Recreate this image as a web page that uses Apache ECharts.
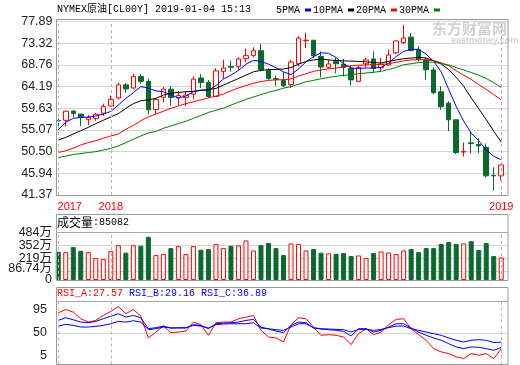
<!DOCTYPE html>
<html><head><meta charset="utf-8">
<script src="https://cdn.jsdelivr.net/npm/echarts@6/dist/echarts.min.js"></script>
<style>html,body{margin:0;padding:0;background:#fff}#c{width:520px;height:365px}</style>
</head><body><div id="c"></div>
<script>
// ---------- data ----------
const categories = [
 '2017-11-17','2017-11-24','2017-12-01','2017-12-08','2017-12-15','2017-12-22','2017-12-29',
 '2018-01-05','2018-01-12','2018-01-19','2018-01-26','2018-02-02','2018-02-09','2018-02-16','2018-02-23',
 '2018-03-02','2018-03-09','2018-03-16','2018-03-23','2018-03-30','2018-04-06','2018-04-13','2018-04-20','2018-04-27',
 '2018-05-04','2018-05-11','2018-05-18','2018-05-25','2018-06-01','2018-06-08','2018-06-15','2018-06-22','2018-06-29',
 '2018-07-06','2018-07-13','2018-07-20','2018-07-27','2018-08-03','2018-08-10','2018-08-17','2018-08-24','2018-08-31',
 '2018-09-07','2018-09-14','2018-09-21','2018-09-28','2018-10-05','2018-10-12','2018-10-19','2018-10-26',
 '2018-11-02','2018-11-09','2018-11-16','2018-11-23','2018-11-30','2018-12-07','2018-12-14','2018-12-21','2018-12-28',
 '2019-01-04'];
const yearTicks = ['2017','2018','2019'];
const yearTickIndex = [0, 7, 59];
// [open, close, low, high]
const ohlc = [
 [57.05,56.95,55.1,57.5],[57.1,59.0,55.8,59.1],[59.05,58.55,57.7,59.15],[58.4,57.75,55.9,58.45],[57.3,57.73,56.1,58.2],
 [57.5,58.35,57.0,58.6],[58.6,60.0,58.0,60.6],[60.1,61.5,60.0,62.3],[61.8,64.55,61.45,65.05],[64.55,63.7,62.85,64.95],
 [63.9,66.3,63.6,66.9],[66.3,65.3,64.8,66.8],[65.25,59.3,58.3,65.8],[59.35,61.45,58.3,61.8],[61.95,63.65,60.9,64.1],
 [63.65,61.9,60.2,64.2],[61.8,62.3,60.25,63.3],[61.9,62.4,60.1,63.3],[62.6,65.75,61.5,66.3],[66.0,65.05,63.9,66.8],
 [65.05,62.1,61.8,65.6],[62.1,67.5,62.0,68.1],[67.4,68.1,65.8,69.85],[68.4,68.25,67.3,69.65],[68.45,70.0,67.75,70.35],
 [70.05,70.7,69.3,72.2],[70.75,71.75,70.35,72.45],[71.75,67.75,67.4,73.2],[67.6,65.85,65.65,68.1],[65.85,65.75,64.3,66.55],
 [65.45,64.4,64.1,67.25],[64.6,69.35,63.9,69.85],[69.0,74.4,68.45,74.8],[73.85,73.95,72.3,75.5],[73.95,70.7,70.2,74.0],
 [70.55,68.3,66.15,71.6],[68.25,68.95,67.9,69.85],[69.5,69.0,67.0,70.3],[68.9,68.2,66.3,70.0],[68.05,65.6,64.4,68.6],
 [65.3,68.2,65.1,68.6],[69.0,69.8,68.25,70.3],[70.0,68.0,67.05,71.6],[68.15,68.9,67.4,70.2],[68.75,70.85,68.6,71.95],
 [71.3,73.8,71.05,73.9],[73.45,74.4,73.15,77.2],[74.6,71.8,71.6,75.5],[71.95,69.85,69.5,72.65],[69.8,67.75,65.65,70.35],
 [67.7,62.9,62.6,68.25],[63.1,59.95,59.3,64.25],[60.7,57.2,54.8,61.1],[57.2,50.3,50.0,57.2],[50.4,50.55,49.45,52.4],
 [52.35,52.2,50.1,54.7],[52.0,51.7,50.2,53.3],[51.4,45.4,45.1,52.2],[45.5,45.4,42.3,47.2],[45.4,47.7,44.4,47.85]];
// volume, in 万
const volume = [288,284,335,298,284,223,213,294,355,278, 355,349,440,254,264,325,345,264,345,308,
 315,366,325,349,352,403,301,355,376,325, 254,372,366,301,315,278,271,267,274,244,
 250,223,274,291,281,264,301,315,284,325, 325,366,386,366,372,396,305,376,244,230];
const ma5 = [55.1,56.7,57.5,57.7,57.75,58.0,58.4,58.95,60.3,61.7, 62.9,64.2,63.85,63.3,63.1,62.45,61.8,62.2,63.1,63.45,
 63.4,64.4,65.8,66.6,67.6,68.9,69.7,69.5,68.9,68.15, 67.3,66.7,67.9,69.4,70.5,71.3,71.2,70.3,69.0,68.1,
 68.0,68.1,68.1,68.25,69.1,70.5,71.6,72.0,72.05,71.0, 69.5,67.3,63.6,60.0,56.9,54.4,52.8,50.9,49.5,48.8];
const ma10 = [52.95,53.5,54.2,54.9,55.6,56.4,57.1,57.8,58.5,59.6, 60.6,61.2,61.4,61.7,62.4,62.8,62.95,63.1,63.2,63.4,
 63.55,63.8,64.5,65.2,65.9,66.6,67.3,67.6,67.75,67.8, 67.9,68.2,68.9,69.5,69.8,70.0,69.8,69.7,69.6,69.55,
 69.5,69.4,69.25,69.15,69.5,69.8,70.05,70.2,70.35,70.2, 69.65,68.95,67.75,66.15,64.25,61.8,59.55,57.25,54.8,52.5];
const ma20 = [50.3,50.7,51.2,51.9,52.4,52.8,53.3,53.8,54.2,55.2, 56.0,57.0,57.8,58.4,59.0,59.6,60.1,60.6,61.0,61.4,
 61.8,62.2,62.6,63.3,63.9,64.4,64.9,65.25,65.5,65.6, 65.65,65.8,66.4,66.9,67.4,67.7,67.9,68.1,68.35,68.55,
 68.7,68.75,68.8,68.85,69.0,69.3,69.6,69.8,69.85,69.8, 69.65,69.2,68.6,67.5,66.6,65.7,64.6,63.6,62.5,61.4];
const ma30 = [49.25,49.55,49.9,50.1,50.3,50.5,50.85,51.2,51.7,52.4, 53.1,53.8,54.4,54.75,55.4,55.9,56.4,56.9,57.5,58.1,
 58.75,59.2,59.65,60.3,60.9,61.5,62.0,62.5,63.0,63.4, 63.85,64.2,64.7,65.2,65.5,65.85,66.1,66.35,66.55,66.7,
 66.9,67.05,67.2,67.4,67.8,68.2,68.8,69.0,69.25,69.35, 69.35,69.0,68.75,68.2,67.7,67.15,66.6,65.9,65.0,64.0];
const rsiA = [78.8,83.6,79.8,70.4,65.6,68.0,75.1,80.8,87.9,77.5, 83.6,74.1,42.9,51.4,59.9,50.5,51.4,52.8,65.6,61.8,
 46.7,64.7,65.6,65.6,70.4,72.7,75.1,53.8,44.3,42.9, 37.2,61.8,71.8,70.4,58.5,46.7,47.6,46.7,44.3,33.4,
 49.0,56.1,47.6,51.4,61.8,69.4,70.4,56.1,47.6,39.5, 27.7,23.0,20.6,15.9,13.5,20.6,18.2,20.6,13.5,27.57];
const rsiB = [68.0,71.8,68.9,65.6,64.7,66.6,70.4,74.1,77.5,72.7, 75.1,71.8,56.1,57.6,59.9,57.1,57.1,57.1,61.8,60.9,
 56.1,63.2,64.2,64.7,65.6,68.0,69.4,58.5,55.7,52.8, 50.5,60.9,65.6,64.7,57.1,55.7,54.7,53.8,52.3,45.7,
 56.1,56.1,51.4,53.8,58.5,63.2,63.2,57.1,51.4,46.7, 42.9,39.6,34.8,30.1,27.7,30.1,29.6,27.7,25.3,29.16];
const rsiC = [59.9,62.3,60.9,58.5,58.5,59.5,60.9,63.2,66.6,65.6, 67.5,65.6,54.7,56.1,58.5,57.1,57.6,57.6,60.9,59.9,
 57.1,61.8,62.8,63.2,63.2,63.2,64.7,57.1,56.1,54.7, 53.8,58.5,63.2,63.2,57.6,56.1,55.7,55.2,54.7,51.4,
 55.2,55.2,53.8,55.2,57.6,59.9,59.9,56.1,53.8,51.4, 49.0,46.7,42.9,39.6,37.2,39.6,40.5,39.6,36.3,36.89];
const priceTicks = [41.37,45.94,50.50,55.07,59.63,64.19,68.76,73.32,77.89];
const volTicks = [0,86.74,219,352,484];
const rsiTicks = [5,50,95];
const titleText = 'NYMEX原油[CL00Y] 2019-01-04 15:13';
const volTitle = ['成交量', ':85082'];
const rsiTitle = ['RSI_A:27.57', 'RSI_B:29.16', 'RSI_C:36.89'];

// ---------- style ----------
const RED = '#ff0000', GREEN = '#0a6a2e', BLUE = '#0000ff', BLACK = '#000000', MA30C = '#008000';
const MONO = '"Liberation Mono","Noto Sans CJK SC",monospace';
const SANS = '"Liberation Sans","Noto Sans CJK SC",sans-serif';
const GRIDC = '#d6d6d6', FRAMEC = '#999999', SEPC = '#a8a8a8', DASHC = '#b4b4b4';
const L = 54.5, R = 15, FL = 56, FR = 12;
const panels = [
  {top: 21.5, height: 173.5},
  {top: 232.5, height: 47.5},
  {top: 301.5, height: 63}
];

const chart = echarts.init(document.getElementById('c'), null, {renderer: 'canvas'});
const yearMark = {
  symbol: 'none', silent: true, label: {show: false},
  lineStyle: {color: DASHC, type: [3, 3], width: 1},
  emphasis: {disabled: true},
  data: yearTickIndex.map(i => ({xAxis: categories[i]}))
};

const grids = [], xAxes = [], yAxes = [];
panels.forEach(p => grids.push({left: L, right: R, top: p.top, height: p.height}));
panels.forEach(p => grids.push({left: FL, right: FR, top: p.top, height: p.height}));
for (let k = 0; k < 3; k++) {
  xAxes.push({
    type: 'category', gridIndex: k, data: categories, boundaryGap: true,
    axisLine: {show: false}, axisTick: {show: false}, splitLine: {show: false},
    axisLabel: k === 0 ? {
      show: true, color: RED, fontSize: 11, fontFamily: SANS, margin: 6, hideOverlap: false,
      interval: (idx) => yearTickIndex.includes(idx),
      formatter: (val, idx) => {
        const j = yearTickIndex.indexOf(idx);
        if (j < 0) return '';
        return j === 0 ? '{l|' + yearTicks[j] + '}' : yearTicks[j];
      },
      rich: {l: {color: RED, fontSize: 11, fontFamily: SANS, padding: [0, 0, 0, 23]}}
    } : {show: false}
  });
}
for (let k = 0; k < 3; k++) {
  xAxes.push({type: 'value', gridIndex: 3 + k, min: 0, max: 1, show: false});
}
const ranges = [[41.37, 77.89], [0, 484], [5, 95]];
for (let k = 0; k < 3; k++) {
  yAxes.push({type: 'value', gridIndex: k, min: ranges[k][0], max: ranges[k][1], show: false});
}
const labelBase = {color: '#222', fontSize: 12.5, fontFamily: SANS, showMinLabel: true, showMaxLabel: true, hideOverlap: false};
// decoration axis: labels and/or grid lines at given values
function decoAxis(grid, range, values, margin, formatter, rich, split, showLabel) {
  const lab = Object.assign({customValues: values, margin, formatter, show: showLabel}, labelBase);
  if (rich) lab.rich = rich;
  return {
    type: 'value', gridIndex: grid, position: 'left', min: range[0], max: range[1],
    axisLine: {show: false}, axisTick: {show: false, customValues: values},
    axisLabel: lab,
    splitLine: {show: split, lineStyle: {color: GRIDC, width: 1}}
  };
}
// price panel
yAxes.push(decoAxis(3, ranges[0], priceTicks, 3.5, v => v.toFixed(2), null, true, true));
// volume panel: grid lines, then one axis per label so none of them gets hidden
yAxes.push(decoAxis(4, ranges[1], volTicks.slice(1), 4, v => '', null, true, false));
volTicks.forEach(t => {
  const shifted = t === volTicks[1];
  yAxes.push(decoAxis(4, ranges[1], [t], 4,
    v => v === 0 ? '0' : (shifted ? '{s|' + v + '万}' : v + '万'),
    shifted ? {s: Object.assign({padding: [0, 0, 5, 0]}, labelBase)} : null, false, true));
});
// rsi panel
yAxes.push(decoAxis(5, ranges[2], [rsiTicks[1]], 9, v => String(v), null, true, true));
yAxes.push(decoAxis(5, ranges[2], [rsiTicks[2]], 9, v => '{t|' + v + '}',
  {t: Object.assign({padding: [17, 0, 0, 0]}, labelBase)}, false, true));
yAxes.push(decoAxis(5, ranges[2], [rsiTicks[0]], 9, v => '{b|' + v + '}',
  {b: Object.assign({padding: [0, 0, 17, 0]}, labelBase)}, false, true));

function maSeries(name, data, color) {
  return {
    name, type: 'line', xAxisIndex: 0, yAxisIndex: 0, data, showSymbol: false, symbol: 'none',
    z: 4, silent: true, itemStyle: {color}, lineStyle: {color, width: 1}
  };
}
function rsiSeries(name, data, color, mark) {
  const s = {
    name, type: 'line', xAxisIndex: 2, yAxisIndex: 2, data, showSymbol: false, symbol: 'none',
    z: 4, silent: true, itemStyle: {color}, lineStyle: {color, width: 1}
  };
  if (mark) s.markLine = yearMark;
  return s;
}

const volData = volume.map((v, i) => {
  const up = ohlc[i][1] >= ohlc[i][0];
  return {value: v, itemStyle: up ? {color: '#ffffff', borderColor: RED, borderWidth: 1} : {color: GREEN, borderColor: GREEN, borderWidth: 1}};
});

const option = {
  animation: false,
  backgroundColor: '#ffffff',
  title: [
    {text: titleText, left: 57, top: 4, padding: 0,
     textStyle: {fontFamily: MONO, fontSize: 10, fontWeight: 'normal', color: '#000'}},
    {text: '{c|' + volTitle[0] + '}{m|' + volTitle[1] + '}', left: 57, top: 216, padding: 0,
     textStyle: {fontWeight: 'normal', rich: {
       c: {fontFamily: '"Noto Sans CJK SC",sans-serif', fontSize: 12, fontWeight: 'normal', color: '#000'},
       m: {fontFamily: MONO, fontSize: 10, fontWeight: 'normal', color: '#000'}}}},
    {text: '{a|' + rsiTitle[0] + '} {b|' + rsiTitle[1] + '} {b|' + rsiTitle[2] + '}', left: 57, top: 288, padding: 0,
     textStyle: {fontFamily: MONO, fontSize: 10, fontWeight: 'normal', color: BLUE, rich: {
       a: {fontFamily: MONO, fontSize: 10, fontWeight: 'normal', color: RED},
       b: {fontFamily: MONO, fontSize: 10, fontWeight: 'normal', color: BLUE}}}}
  ],
  legend: {
    data: ['5PMA', '10PMA', '20PMA', '30PMA'], left: 276, top: 5, padding: 0,
    itemWidth: 6, itemHeight: 3, itemGap: 2, align: 'right', icon: 'rect', selectedMode: false,
    textStyle: {fontFamily: MONO, fontSize: 10, color: '#000', padding: 0}
  },
  grid: grids, xAxis: xAxes, yAxis: yAxes,
  graphic: [
    {type: 'text', left: 432, top: 21, z: 1, silent: true,
     style: {text: '东方财富网', font: 'bold 15px "Noto Sans CJK SC"', fill: '#d2d2d2'}},
    {type: 'text', left: 451, top: 36, z: 1, silent: true,
     style: {text: 'eastmoney.com', font: 'bold 9px "Liberation Sans"', fill: '#d2d2d2'}},
    {type: 'rect', z: 10, silent: true, shape: {x: 56.5, y: 19.5, width: 451.5, height: 176},
     style: {fill: 'none', stroke: FRAMEC, lineWidth: 1}},
    {type: 'rect', z: 10, silent: true, shape: {x: 56.5, y: 214.5, width: 451.5, height: 66},
     style: {fill: 'none', stroke: FRAMEC, lineWidth: 1}},
    {type: 'rect', z: 10, silent: true, shape: {x: 56.5, y: 287.5, width: 451.5, height: 77},
     style: {fill: 'none', stroke: FRAMEC, lineWidth: 1}},
    {type: 'line', z: 10, silent: true, shape: {x1: 56.5, y1: 232.5, x2: 508, y2: 232.5},
     style: {stroke: SEPC, lineWidth: 1}},
    {type: 'line', z: 10, silent: true, shape: {x1: 56.5, y1: 301.5, x2: 508, y2: 301.5},
     style: {stroke: SEPC, lineWidth: 1}}
  ],
  series: [
    {
      name: 'K', type: 'candlestick', xAxisIndex: 0, yAxisIndex: 0, data: ohlc, barWidth: 5, z: 3, silent: true,
      itemStyle: {color: '#ffffff', color0: GREEN, borderColor: RED, borderColor0: GREEN, borderWidth: 1},
      markLine: yearMark
    },
    maSeries('5PMA', ma5, BLUE),
    maSeries('10PMA', ma10, BLACK),
    maSeries('20PMA', ma20, RED),
    maSeries('30PMA', ma30, MA30C),
    {
      name: 'VOL', type: 'bar', xAxisIndex: 1, yAxisIndex: 1, data: volData, barWidth: 5, z: 3, silent: true,
      markLine: yearMark
    },
    rsiSeries('RSI_A', rsiA, RED, true),
    rsiSeries('RSI_B', rsiB, BLUE, false),
    rsiSeries('RSI_C', rsiC, BLUE, false)
  ]
};
chart.setOption(option);
</script>
</body></html>
